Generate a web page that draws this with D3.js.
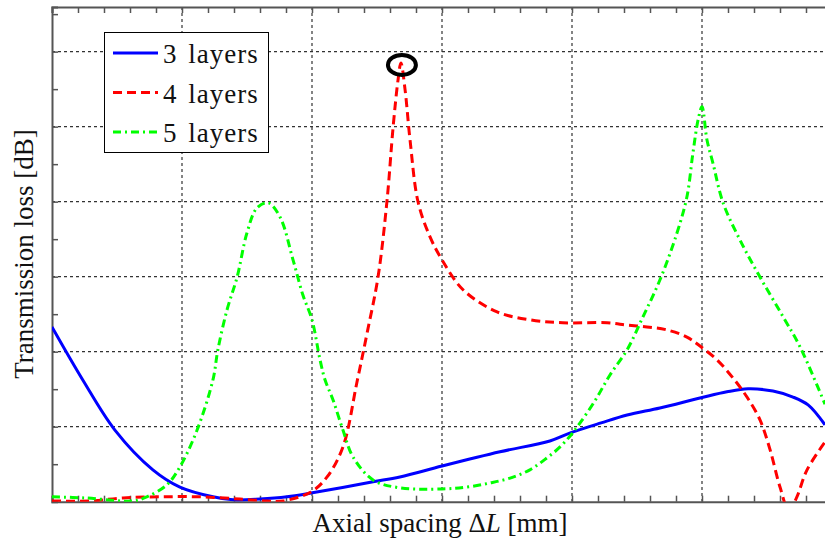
<!DOCTYPE html>
<html>
<head>
<meta charset="utf-8">
<script src="https://cdn.jsdelivr.net/npm/d3@7"></script>
<style>
  body { margin: 0; background: #fff; }
  svg text { font-family: "Liberation Serif", "Times New Roman", serif; }
</style>
</head>
<body>
<div id="chart"></div>
<script>
var w = 825;
var h = 543;

// axial spacing (mm) and transmission loss (dB)
var x3 = [0, 1.19, 2.42, 3.88, 4.92, 6.19, 6.96, 8.0, 9.04, 9.96, 12.35, 13.38, 15.0, 17.23, 19.15, 19.96, 21.12, 22.12, 23.38, 24.96, 25.96, 26.77, 27.73, 28.5, 29.08, 29.73];
var y3 = [4.66, 3.24, 1.91, 0.85, 0.39, 0.13, 0.05, 0.07, 0.13, 0.23, 0.53, 0.66, 0.95, 1.33, 1.62, 1.84, 2.1, 2.31, 2.50, 2.77, 2.93, 3.01, 2.95, 2.79, 2.58, 2.05];

var x4 = [0, 1.46, 2.73, 4.15, 5.69, 7.23, 8.27, 8.88, 9.96, 10.58, 11.19, 11.73, 12.12, 12.54, 12.88, 13.12, 13.31, 13.42, 13.58, 13.77, 14.08, 14.54, 15.0, 15.81, 17.12, 18.38, 19.65, 21.35, 22.12, 22.88, 23.65, 24.42, 24.96, 25.58, 26.19, 26.73, 27.23, 27.62, 28.0, 28.35, 28.65, 29.04, 29.73];
var y4 = [0.02, 0.02, 0.1, 0.13, 0.13, 0.07, 0.02, 0.02, 0.26, 0.66, 1.46, 3.19, 4.5, 5.99, 7.99, 9.99, 11.25, 11.7, 10.98, 9.65, 7.99, 7.06, 6.45, 5.65, 5.06, 4.85, 4.77, 4.77, 4.71, 4.66, 4.58, 4.39, 4.13, 3.78, 3.3, 2.79, 2.18, 1.38, 0.39, -0.25, 0.13, 0.85, 1.59];

var x5 = [0, 1.27, 3.12, 3.65, 4.42, 4.92, 5.58, 6.19, 6.38, 6.73, 7.12, 7.5, 7.88, 8.31, 8.77, 9.27, 9.65, 10.0, 10.31, 10.5, 10.81, 11.19, 11.58, 12.35, 13.38, 15.0, 15.96, 16.85, 17.62, 18.38, 19.04, 19.54, 19.96, 20.31, 20.9, 21.46, 22.12, 22.73, 23.38, 24.04, 24.42, 24.65, 24.85, 25.0, 25.19, 25.42, 25.81, 26.46, 27.23, 28.12, 28.77, 29.73];
var y5 = [0.13, 0.1, 0.02, 0.13, 0.45, 0.93, 1.91, 3.25, 4.05, 5.11, 5.99, 7.17, 7.83, 7.97, 7.59, 6.45, 5.51, 4.85, 3.78, 3.25, 2.71, 1.91, 1.19, 0.58, 0.37, 0.34, 0.39, 0.5, 0.63, 0.85, 1.17, 1.46, 1.78, 2.1, 2.71, 3.38, 4.05, 4.93, 5.91, 7.17, 8.13, 9.29, 10.18, 10.53, 9.65, 9.03, 7.97, 6.98, 5.99, 4.93, 4.13, 2.6];

var seriesNames = ["3 layers", "4 layers", "5 layers"];
var xTicks = d3.range(0, 31, 1);
var yTicks = d3.range(0, 14, 1);
var xGrid = [5, 10, 15, 20, 25];
var yGrid = [2, 4, 6, 8, 10, 12];

// plot box (pixels)
var pLeft = 52, pRight = 832, pTop = 7, pBottom = 501.7;

var xScale = d3.scaleLinear().domain([0, 30]).range([pLeft, pRight]);
var yScale = d3.scaleLinear().domain([0, 13.19]).range([pBottom, pTop]);

var svg = d3.select("#chart").append("svg")
    .attr("width", w)
    .attr("height", h);

svg.append("defs").append("clipPath").attr("id", "plot")
    .append("rect")
    .attr("x", pLeft).attr("y", pTop)
    .attr("width", pRight - pLeft).attr("height", pBottom - pTop);

// grid
svg.append("g").selectAll("line").data(xGrid).enter().append("line")
    .attr("x1", function (d) { return xScale(d); })
    .attr("x2", function (d) { return xScale(d); })
    .attr("y1", pTop).attr("y2", pBottom)
    .attr("stroke", "#333").attr("stroke-width", 1.2)
    .attr("stroke-dasharray", "3,3");
svg.append("g").selectAll("line").data(yGrid).enter().append("line")
    .attr("y1", function (d) { return yScale(d); })
    .attr("y2", function (d) { return yScale(d); })
    .attr("x1", pLeft).attr("x2", pRight)
    .attr("stroke", "#333").attr("stroke-width", 1.2)
    .attr("stroke-dasharray", "3,3");

// axes (ticks inside, no labels)
let xAxis = d3.axisTop(xScale).tickValues(xTicks).tickSize(6).tickFormat("");
let xAxisTop = d3.axisBottom(xScale).tickValues(xTicks).tickSize(6).tickFormat("");
let yAxis = d3.axisRight(yScale).tickValues(yTicks).tickSize(6).tickFormat("");

var axes = [
    svg.append("g").attr("transform", "translate(0," + pBottom + ")").call(xAxis),
    svg.append("g").attr("transform", "translate(0," + pTop + ")").call(xAxisTop),
    svg.append("g").attr("transform", "translate(" + pLeft + ",0)").call(yAxis)
];
axes.forEach(function (g) {
    g.selectAll("path, line").attr("stroke", "#555").attr("stroke-width", 1.5);
    g.select(".domain").attr("stroke-width", 2);
});

// lines
var line = d3.line()
    .x(function (d) { return xScale(d[0]); })
    .y(function (d) { return yScale(d[1]); })
    .curve(d3.curveCatmullRom.alpha(0.5));

var series = [
    { name: seriesNames[0], pts: d3.zip(x3, y3), color: "#0000ff", dash: null },
    { name: seriesNames[1], pts: d3.zip(x4, y4), color: "#ff0000", dash: "9,5" },
    { name: seriesNames[2], pts: d3.zip(x5, y5), color: "#00ff00", dash: "8,4,2,4" }
];

var plot = svg.append("g").attr("clip-path", "url(#plot)");
series.forEach(function (s) {
    plot.append("path")
        .datum(s.pts)
        .attr("fill", "none")
        .attr("stroke", s.color)
        .attr("stroke-width", 3)
        .attr("stroke-dasharray", s.dash)
        .attr("d", line);
});

// marker at the 4-layer peak
var peak = d3.zip(x4, y4).reduce(function (a, b) { return b[1] > a[1] ? b : a; });
svg.append("ellipse")
    .attr("cx", xScale(peak[0]) + 1)
    .attr("cy", yScale(peak[1]) + 2)
    .attr("rx", 14).attr("ry", 10)
    .attr("fill", "none").attr("stroke", "#000").attr("stroke-width", 4);

// legend
var legend = svg.append("g");
legend.append("rect")
    .attr("x", 104.5).attr("y", 32.5)
    .attr("width", 164).attr("height", 120)
    .attr("fill", "#fff").attr("stroke", "#000").attr("stroke-width", 1);
series.forEach(function (s, i) {
    var ly = 53 + i * 39.5;
    legend.append("line")
        .attr("x1", 113).attr("x2", 158)
        .attr("y1", ly).attr("y2", ly)
        .attr("stroke", s.color).attr("stroke-width", 3)
        .attr("stroke-dasharray", s.dash);
    legend.append("text")
        .attr("x", 163).attr("y", ly + 10)
        .attr("font-size", 27)
        .attr("letter-spacing", 1)
        .attr("word-spacing", 3)
        .attr("fill", "#111")
        .text(s.name);
});

// axis titles
var xl = svg.append("text")
    .attr("x", 440).attr("y", 532)
    .attr("text-anchor", "middle")
    .attr("font-size", 27)
    .attr("fill", "#111");
xl.append("tspan").text("Axial spacing \u0394");
xl.append("tspan").attr("font-style", "italic").text("L");
xl.append("tspan").text(" [mm]");

svg.append("text")
    .attr("transform", "translate(33,254) rotate(-90)")
    .attr("text-anchor", "middle")
    .attr("font-size", 27)
    .attr("fill", "#111")
    .text("Transmission loss [dB]");
</script>
</body>
</html>
